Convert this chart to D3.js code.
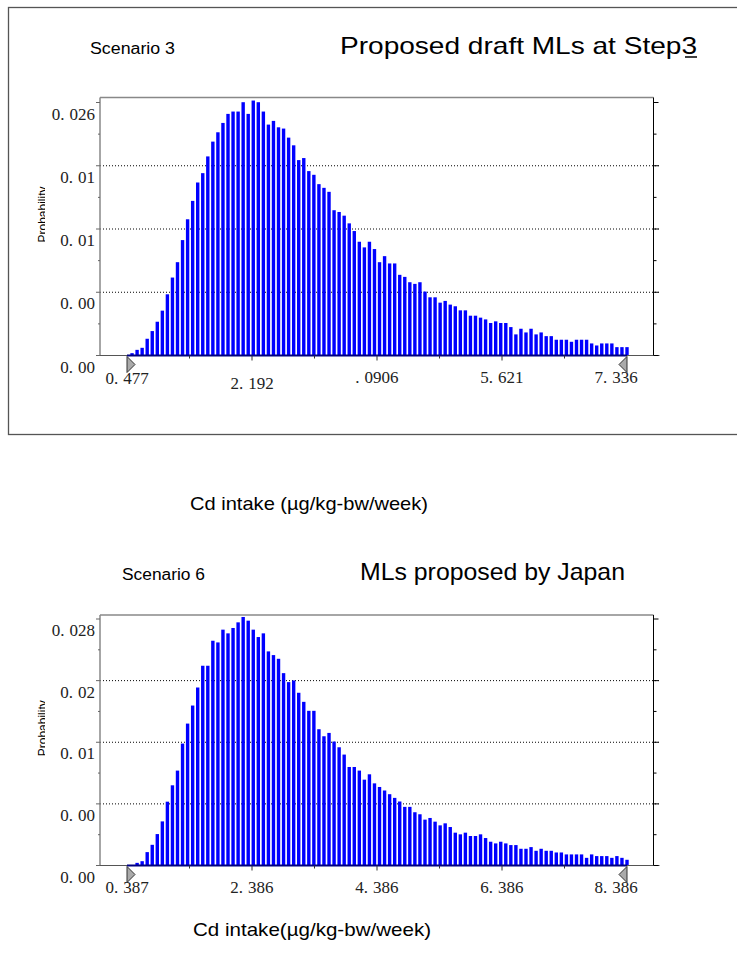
<!DOCTYPE html>
<html>
<head>
<meta charset="utf-8">
<script src="https://cdn.jsdelivr.net/npm/d3@7"></script>
<style>
  body { margin: 0; background: #fff; }
  .num { font-family: "Liberation Serif", "DejaVu Serif", serif; font-size: 17px; fill: #222; }
  .sans { font-family: "Liberation Sans", Arial, sans-serif; fill: #000; }
</style>
</head>
<body>
<div id="chart"></div>
<script>
// bin probabilities (99 bins each)
var scenario3Probs = [
  0.00024, 0.00058, 0.00079, 0.00172, 0.00251, 0.00347, 0.00461, 0.00629, 0.00801, 0.00959,
  0.01186, 0.0140, 0.01589, 0.01778, 0.01874, 0.02046, 0.02198, 0.02294, 0.0239, 0.02483,
  0.02507, 0.02507, 0.02603, 0.02483, 0.0262, 0.02603, 0.02507, 0.02373, 0.02411, 0.02345,
  0.02332, 0.02239, 0.0216, 0.02008, 0.02029, 0.01895, 0.01857, 0.01761, 0.01723, 0.01682,
  0.01493, 0.01475, 0.01437, 0.01358, 0.01279, 0.01169, 0.01111, 0.01169, 0.01094, 0.00959,
  0.01021, 0.00946, 0.00946, 0.00829, 0.00808, 0.00753, 0.00736, 0.00753, 0.00657, 0.00598,
  0.00598, 0.00543, 0.00561, 0.00523, 0.00506, 0.00464, 0.00464, 0.00409, 0.00409, 0.00389,
  0.00371, 0.00334, 0.00351, 0.00334, 0.00334, 0.00292, 0.00217, 0.00275, 0.00237, 0.00275,
  0.00217, 0.00237, 0.00199, 0.00199, 0.00162, 0.00162, 0.00162, 0.00141, 0.00162, 0.00162,
  0.00162, 0.00124, 0.00103, 0.00124, 0.00124, 0.00124, 0.00086, 0.00086, 0.00086
];
var scenario6Probs = [
  0.00005, 0.0003, 0.00049, 0.00152, 0.00235, 0.00357, 0.00501, 0.00725, 0.00911, 0.01078,
  0.01385, 0.01612, 0.01817, 0.02022, 0.02269, 0.02269, 0.02553, 0.02534, 0.02679, 0.02637,
  0.02698, 0.02762, 0.02823, 0.02781, 0.02679, 0.02595, 0.02637, 0.02432, 0.0239, 0.02348,
  0.02185, 0.02083, 0.02102, 0.01962, 0.01859, 0.01757, 0.01757, 0.01548, 0.01468, 0.01506,
  0.01408, 0.01343, 0.0126, 0.01119, 0.01119, 0.01078, 0.00975, 0.01036, 0.00933, 0.00892,
  0.00852, 0.0081, 0.00768, 0.00727, 0.00666, 0.00666, 0.00605, 0.00582, 0.00521, 0.0054,
  0.00498, 0.00456, 0.00479, 0.00437, 0.00373, 0.00354, 0.00373, 0.00335, 0.00335, 0.00354,
  0.00312, 0.0027, 0.00251, 0.0027, 0.00251, 0.00232, 0.00232, 0.0019, 0.0019, 0.00209,
  0.00167, 0.0019, 0.00167, 0.00167, 0.00148, 0.00148, 0.00126, 0.00126, 0.00126, 0.00126,
  0.00087, 0.00126, 0.00107, 0.00107, 0.00107, 0.00087, 0.00107, 0.00087, 0.00065
];

// x axis: range ends and the labelled quarter points
var scenario3Range = [0.477, 7.336];
var scenario6Range = [0.387, 8.386];
var scenario3XTicks = [0.477, 2.192, 3.906, 5.621, 7.336];
var scenario6XTicks = [0.387, 2.386, 4.386, 6.386, 8.386];
var scenario3XLabels = ["0.477", "2.192", ".0906", "5.621", "7.336"];
var scenario6XLabels = ["0.387", "2.386", "4.386", "6.386", "8.386"];

// y axis: gridline values and their (truncated) labels
var scenario3YTicks = [0, 0.0065, 0.013, 0.0195, 0.026];
var scenario6YTicks = [0, 0.007, 0.014, 0.021, 0.028];
var scenario3YLabels = ["0.00", "0.00", "0.01", "0.01", "0.026"];
var scenario6YLabels = ["0.00", "0.00", "0.01", "0.02", "0.028"];

var svg = d3.select("#chart")
    .append("svg")
    .attr("width", 737)
    .attr("height", 967);

// outer frame round the first chart
svg.append("rect")
    .attr("x", 8.5)
    .attr("y", 7.5)
    .attr("width", 740)
    .attr("height", 427)
    .attr("fill", "none")
    .attr("stroke", "#555")
    .attr("stroke-width", 1.3);

// number label with the wide period of the original font
function numLabel(g, str) {
    var parts = str.split(".");
    g.text(parts[0]);
    g.append("tspan").text(".");
    g.append("tspan").attr("dx", 5).text(parts[1]);
}

function drawChart(cfg) {
    var left = 100, right = 653.5, xLo = 127, xHi = 627;
    var top = cfg.top, base = cfg.base;

    var x = d3.scaleLinear().domain(cfg.range).range([xLo, xHi]);
    var y = d3.scaleLinear().domain([0, cfg.yTicks[4]]).range([base, cfg.yTop]);

    var g = svg.append("g");
    var step = (cfg.range[1] - cfg.range[0]) / cfg.probs.length;

    // dotted gridlines
    g.selectAll(".grid")
        .data(cfg.yTicks.slice(1, 4))
        .enter()
        .append("line")
        .attr("x1", left).attr("x2", right + 6)
        .attr("y1", d => y(d)).attr("y2", d => y(d))
        .attr("stroke", "#000")
        .attr("stroke-width", 1)
        .attr("stroke-dasharray", "1,2");

    // bars
    g.selectAll(".bar")
        .data(cfg.probs)
        .enter()
        .append("rect")
        .attr("x", (d, i) => x(cfg.range[0] + (i + 1) * step) - 1.7)
        .attr("y", d => y(d))
        .attr("width", 3.4)
        .attr("height", d => base - y(d))
        .attr("fill", "#0000ff");

    // frame: grey top / left, black right
    g.append("line").attr("x1", left).attr("x2", right).attr("y1", top).attr("y2", top)
        .attr("stroke", "#888").attr("stroke-width", 1.5);
    g.append("line").attr("x1", left).attr("x2", left).attr("y1", top).attr("y2", base)
        .attr("stroke", "#888").attr("stroke-width", 1.5);
    g.append("line").attr("x1", right).attr("x2", right).attr("y1", top).attr("y2", base)
        .attr("stroke", "#000").attr("stroke-width", 1);
    g.append("line").attr("x1", left).attr("x2", right + 6).attr("y1", base).attr("y2", base)
        .attr("stroke", "#555").attr("stroke-width", 1.2);
    g.append("line").attr("x1", xLo).attr("x2", xHi).attr("y1", base).attr("y2", base)
        .attr("stroke", "#000080").attr("stroke-width", 2);

    // y ticks on both sides (major at grid, minor between)
    var yMinor = d3.range(0, 9).map(k => cfg.yTicks[4] * k / 8);
    yMinor.forEach(function(v, k) {
        var len = k % 2 === 0 ? 4 : 2;
        g.append("line").attr("x1", left - len).attr("x2", left).attr("y1", y(v)).attr("y2", y(v))
            .attr("stroke", "#666");
        g.append("line").attr("x1", right).attr("x2", right + len + 1).attr("y1", y(v)).attr("y2", y(v))
            .attr("stroke", "#000");
    });

    // x ticks below the axis at eighths of the range
    d3.range(1, 8).forEach(function(k) {
        var xv = xLo + (xHi - xLo) * k / 8;
        g.append("line").attr("x1", xv).attr("x2", xv).attr("y1", base).attr("y2", base + (k % 2 === 0 ? 5 : 3))
            .attr("stroke", "#333");
    });

    // range markers
    g.append("path")
        .attr("d", `M${xLo},${base + 1} L${xLo},${base + 17} L${xLo + 8},${base + 9} Z`)
        .attr("fill", "#aaa").attr("stroke", "#333").attr("stroke-width", 1);
    g.append("path")
        .attr("d", `M${xHi},${base + 1} L${xHi},${base + 17} L${xHi - 8},${base + 9} Z`)
        .attr("fill", "#aaa").attr("stroke", "#333").attr("stroke-width", 1);

    // y labels sit just below their gridline
    cfg.yLabels.forEach(function(lab, k) {
        var t = g.append("text")
            .attr("class", "num")
            .attr("x", 95)
            .attr("y", y(cfg.yTicks[k]) + 17)
            .attr("text-anchor", "end");
        numLabel(t, lab);
    });

    // x labels
    cfg.xLabels.forEach(function(lab, k) {
        var t = g.append("text")
            .attr("class", "num")
            .attr("x", x(cfg.xTicks[k]) + (k === 4 ? -11 : 0))
            .attr("y", base + cfg.xLabelDy[k])
            .attr("text-anchor", "middle");
        numLabel(t, lab);
    });

    // "Probability" axis title, cut off on its baseline side
    var clipId = "clip" + cfg.id;
    svg.append("clipPath").attr("id", clipId)
        .append("rect").attr("x", 0).attr("y", 0).attr("width", 45).attr("height", 967);
    g.append("g")
        .attr("clip-path", `url(#${clipId})`)
        .append("text")
        .attr("class", "sans")
        .attr("transform", `translate(46.5, ${(top + base) / 2 - 12}) rotate(-90)`)
        .attr("text-anchor", "middle")
        .style("font-size", "12px")
        .text("Probability");

    // headings
    g.append("text")
        .attr("class", "sans")
        .attr("x", cfg.scenX).attr("y", cfg.headY)
        .attr("textLength", cfg.scenW).attr("lengthAdjust", "spacingAndGlyphs")
        .style("font-size", "16px")
        .text(cfg.scenario);
    g.append("text")
        .attr("class", "sans")
        .attr("x", cfg.titleX).attr("y", cfg.headY)
        .attr("textLength", cfg.titleW).attr("lengthAdjust", "spacingAndGlyphs")
        .style("font-size", "24px")
        .text(cfg.title);
    if (cfg.underline) {
        svg.append("line")
            .attr("x1", cfg.titleX + cfg.titleW - 12).attr("x2", cfg.titleX + cfg.titleW)
            .attr("y1", cfg.headY + 3).attr("y2", cfg.headY + 3)
            .attr("stroke", "#000").attr("stroke-width", 1.5);
    }

    // axis title under the chart
    g.append("text")
        .attr("class", "sans")
        .attr("x", cfg.xTitleX).attr("y", cfg.xTitleY)
        .attr("textLength", 238).attr("lengthAdjust", "spacingAndGlyphs")
        .style("font-size", "19px")
        .text(cfg.xTitle);
}

drawChart({
    id: 3, top: 97.5, base: 355.5, yTop: 102.5,
    probs: scenario3Probs, range: scenario3Range,
    xTicks: scenario3XTicks, xLabels: scenario3XLabels, xLabelDy: [28, 33, 27, 27, 27],
    yTicks: scenario3YTicks, yLabels: scenario3YLabels,
    scenario: "Scenario 3", scenX: 90, scenW: 85,
    title: "Proposed draft MLs at Step3", titleX: 340, titleW: 357, headY: 54, underline: true,
    xTitle: "Cd intake (\u00b5g/kg-bw/week)", xTitleX: 190, xTitleY: 510
});

drawChart({
    id: 6, top: 615, base: 865.5, yTop: 619,
    probs: scenario6Probs, range: scenario6Range,
    xTicks: scenario6XTicks, xLabels: scenario6XLabels, xLabelDy: [27, 27, 27, 27, 27],
    yTicks: scenario6YTicks, yLabels: scenario6YLabels,
    scenario: "Scenario 6", scenX: 122, scenW: 83,
    title: "MLs proposed by Japan", titleX: 360, titleW: 265, headY: 580, underline: false,
    xTitle: "Cd intake(\u00b5g/kg-bw/week)", xTitleX: 193, xTitleY: 936
});
</script>
</body>
</html>
